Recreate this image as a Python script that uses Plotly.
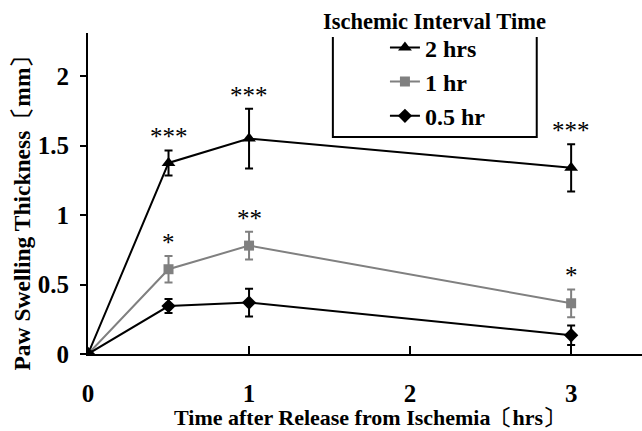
import plotly.graph_objects as go

# ---- data ----
time_points = [0, 0.5, 1, 3]
series_names = ["2 hrs", "1 hr", "0.5 hr"]
mean_2h = [0, 1.375, 1.55, 1.34]
err_2h = [0, 0.09, 0.215, 0.17]
mean_1h = [0, 0.61, 0.78, 0.365]
err_1h = [0, 0.095, 0.10, 0.10]
mean_05h = [0, 0.345, 0.37, 0.135]
err_05h = [0, 0.05, 0.10, 0.07]
sig_2h = ["", "***", "***", "***"]
sig_1h = ["", "*", "**", "*"]
x_ticks = [0, 1, 2, 3]
y_ticks = [0, 0.5, 1, 1.5, 2]
x_title = "Time after Release from Ischemia〔hrs〕"
y_title = "Paw Swelling Thickness〔mm〕"
legend_title = "Ischemic Interval Time"

SERIF = "Liberation Serif, Times New Roman, serif"
BLACK = "#000000"
GRAY = "#808080"

fig = go.Figure()

styles = [
    (series_names[0], mean_2h, err_2h, BLACK, "triangle-up", 12),
    (series_names[1], mean_1h, err_1h, GRAY, "square", 10),
    (series_names[2], mean_05h, err_05h, BLACK, "diamond", 11),
]
for i, (name, m, e, col, sym, sz) in enumerate(styles):
    fig.add_trace(go.Scatter(
        x=time_points, y=m, name=name, mode="lines+markers",
        legendgroup=f"g{i}",
        line=dict(color=col, width=2),
        marker=dict(symbol=sym, size=sz, color=col),
        error_y=dict(type="data", array=e, visible=True, color=col,
                     thickness=2, width=4),
    ))

# significance markers above error bars
for means, errs, sigs in [(mean_2h, err_2h, sig_2h), (mean_1h, err_1h, sig_1h)]:
    for x, m, e, s in zip(time_points, means, errs, sigs):
        if s:
            fig.add_annotation(x=x, y=m + e, text=s, showarrow=False,
                               xanchor="center", yanchor="bottom", yshift=-2,
                               font=dict(family=SERIF, size=25, color=BLACK))

# axis titles
fig.add_annotation(xref="paper", yref="paper", x=0.509, y=-0.197,
                   text=f"<b>{x_title}</b>", showarrow=False,
                   xanchor="center", yanchor="middle",
                   font=dict(family=SERIF, size=22, color=BLACK))
fig.add_annotation(xref="paper", yref="paper", x=-0.12, y=0.458,
                   text=f"<b>{y_title}</b>", showarrow=False, textangle=-90,
                   xanchor="center", yanchor="middle",
                   font=dict(family=SERIF, size=23.5, color=BLACK))

# legend title and open-top box
fig.add_annotation(xref="paper", yref="paper", x=0.626, y=1.036,
                   text=f"<b>{legend_title}</b>", showarrow=False,
                   xanchor="center", yanchor="middle",
                   font=dict(family=SERIF, size=22.5, color=BLACK))
fig.add_shape(type="path", xref="paper", yref="paper",
              path="M 0.442 0.9875 L 0.442 0.676 L 0.810 0.676 L 0.810 0.9875",
              line=dict(color=BLACK, width=2))

fig.update_layout(
    width=642, height=431,
    margin=dict(l=88, r=0, t=33, b=77),
    plot_bgcolor="white", paper_bgcolor="white",
    font=dict(family=SERIF, color=BLACK),
    showlegend=True,
    legend=dict(x=0.536, y=1.024, xanchor="left", yanchor="top",
                font=dict(family=SERIF, size=24, color=BLACK, weight="bold"),
                bgcolor="rgba(0,0,0,0)", tracegroupgap=0, itemwidth=30),
    xaxis=dict(range=[0, 3.44], tickvals=x_ticks, ticks="inside", ticklen=8,
               tickwidth=2, tickcolor=BLACK, showline=True, linecolor=BLACK, linewidth=2,
               showgrid=False, zeroline=False, ticklabelstandoff=16,
               tickfont=dict(family=SERIF, size=25, color=BLACK, weight="bold")),
    yaxis=dict(range=[0, 2.31], tickvals=y_ticks, ticks="outside", ticklen=6,
               tickwidth=2, tickcolor=BLACK, showline=True, linecolor=BLACK, linewidth=2,
               showgrid=False, zeroline=False, ticklabelstandoff=6,
               tickfont=dict(family=SERIF, size=25, color=BLACK, weight="bold")),
)

fig.write_html("out.html")
